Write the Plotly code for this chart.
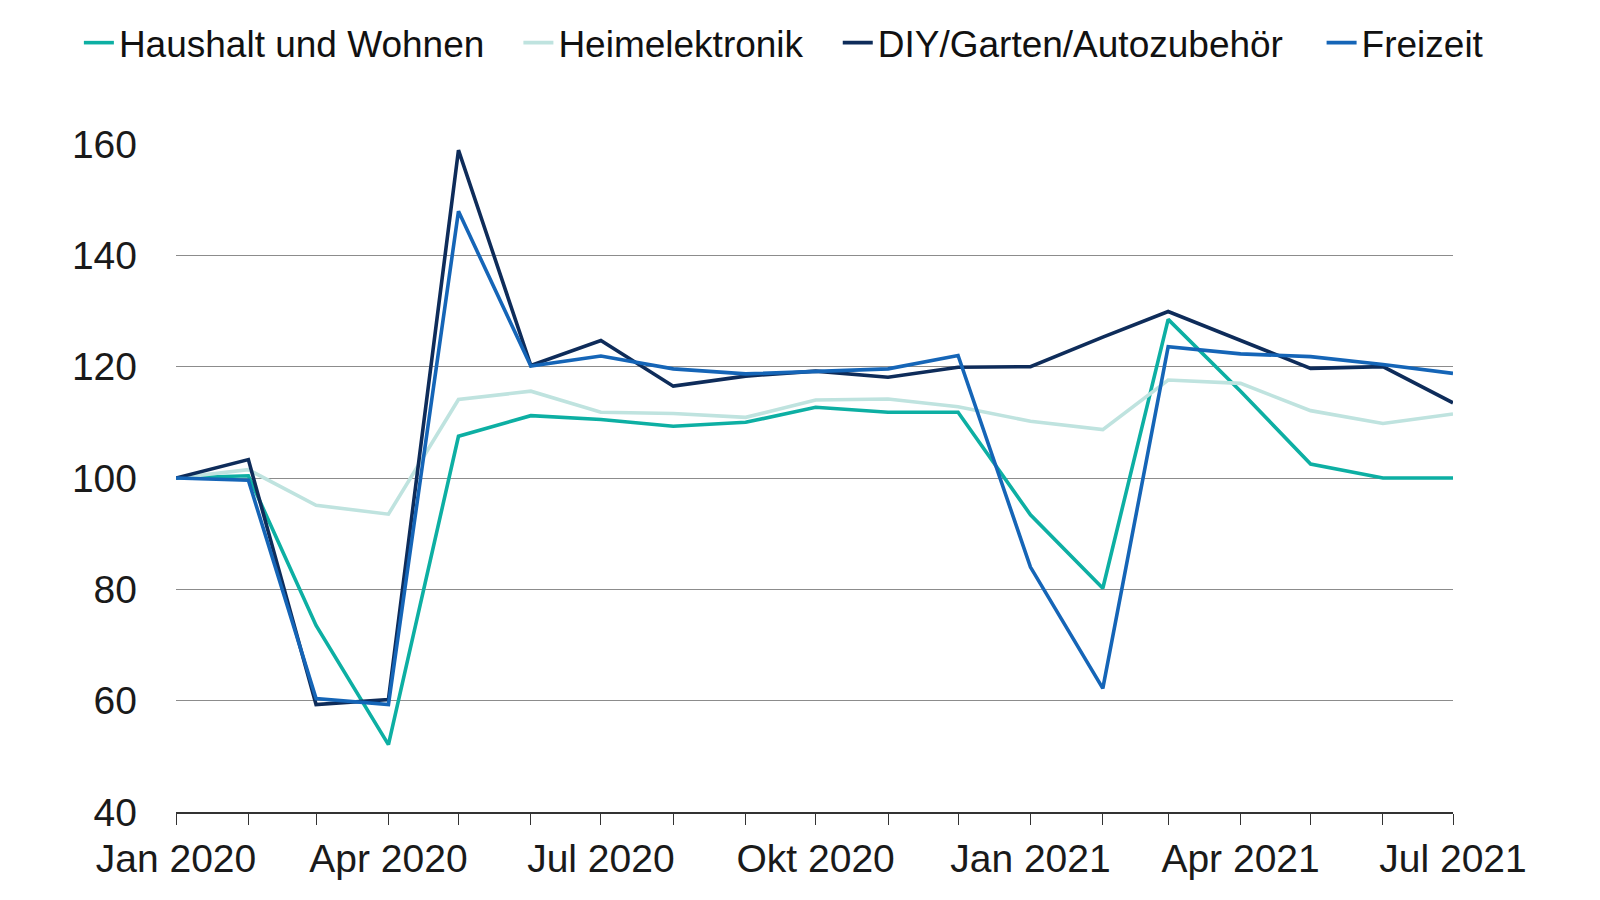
import plotly.graph_objects as go

# -------------------------
# Monthly index values (Jan 2020 = 100)
# -------------------------
months = [
    "2020-01-01", "2020-02-01", "2020-03-01", "2020-04-01", "2020-05-01", "2020-06-01",
    "2020-07-01", "2020-08-01", "2020-09-01", "2020-10-01", "2020-11-01", "2020-12-01",
    "2021-01-01", "2021-02-01", "2021-03-01", "2021-04-01", "2021-05-01", "2021-06-01",
    "2021-07-01",
]

haushalt = [100, 100.4, 73.5, 52.1, 107.5, 111.2, 110.5, 109.3, 110.0, 112.7, 111.8, 111.8,
            93.4, 80.2, 128.5, 115.6, 102.5, 100.0, 100.0]
heimelektronik = [100, 101.5, 95.1, 93.5, 114.1, 115.6, 111.8, 111.6, 110.9, 114.0, 114.2, 112.8,
                  110.2, 108.7, 117.6, 117.0, 112.1, 109.8, 111.5]
diy = [100, 103.3, 59.3, 60.2, 158.9, 120.2, 124.7, 116.5, 118.3, 119.2, 118.1, 119.9,
       120.0, 125.3, 129.9, 124.7, 119.7, 120.0, 113.5]
freizeit = [100, 99.6, 60.4, 59.3, 147.9, 120.1, 121.9, 119.6, 118.7, 119.2, 119.6, 122.0,
            84.0, 62.2, 123.6, 122.3, 121.8, 120.4, 118.8]

series_names = ["Haushalt und Wohnen", "Heimelektronik", "DIY/Garten/Autozubehör", "Freizeit"]
series_colors = ["#0DAFA3", "#BFE3DF", "#0E2C5A", "#1565B7"]

tick_vals = ["2020-01-01", "2020-04-01", "2020-07-01", "2020-10-01", "2021-01-01", "2021-04-01", "2021-07-01"]
tick_text = ["Jan 2020", "Apr 2020", "Jul 2020", "Okt 2020", "Jan 2021", "Apr 2021", "Jul 2021"]

# one legend per series so the single row sits like the original
legend_ids = ["legend", "legend2", "legend3", "legend4"]
legend_x = [0.0443, 0.319, 0.5186, 0.821]

fig = go.Figure()
for name, vals, col, lg in zip(series_names, [haushalt, heimelektronik, diy, freizeit],
                               series_colors, legend_ids):
    fig.add_trace(go.Scatter(x=months, y=vals, name=name, mode="lines", legend=lg,
                             line=dict(color=col, width=3.6)))

fig.update_xaxes(
    range=["2020-01-01", "2021-07-01"],
    tickvals=tick_vals, ticktext=tick_text,
    showgrid=False, showline=True, linecolor="#333", linewidth=1.5,
    ticks="outside", ticklen=11, tickcolor="#333", tickwidth=1.3,
    minor=dict(dtick="M1", tick0="2020-01-01", ticks="outside", ticklen=11,
               tickcolor="#333", tickwidth=1.3, showgrid=False),
    tickfont=dict(size=39, color="#1a1a1a"),
)
fig.update_yaxes(
    range=[40, 160], tickvals=[40, 60, 80, 100, 120, 140, 160],
    showgrid=True, gridcolor="#8c8c8c", gridwidth=1.2,
    zeroline=False, showline=False, ticks="",
    tickfont=dict(size=39, color="#1a1a1a"), ticklabelstandoff=38,
)

legend_style = dict(orientation="h", y=0.961, xref="container", yref="container",
                    xanchor="left", yanchor="middle", font=dict(size=37, color="#111"),
                    itemwidth=30, bgcolor="rgba(0,0,0,0)")
layout_legends = {lg: dict(legend_style, x=lx) for lg, lx in zip(legend_ids, legend_x)}

fig.update_layout(
    width=1600, height=900,
    template="simple_white",
    font=dict(family="Liberation Sans, Arial, sans-serif", color="#1a1a1a"),
    margin=dict(l=168, r=155, t=136, b=96),
    showlegend=True,
    paper_bgcolor="white", plot_bgcolor="white",
    **layout_legends,
)

fig.write_html("out.html")
